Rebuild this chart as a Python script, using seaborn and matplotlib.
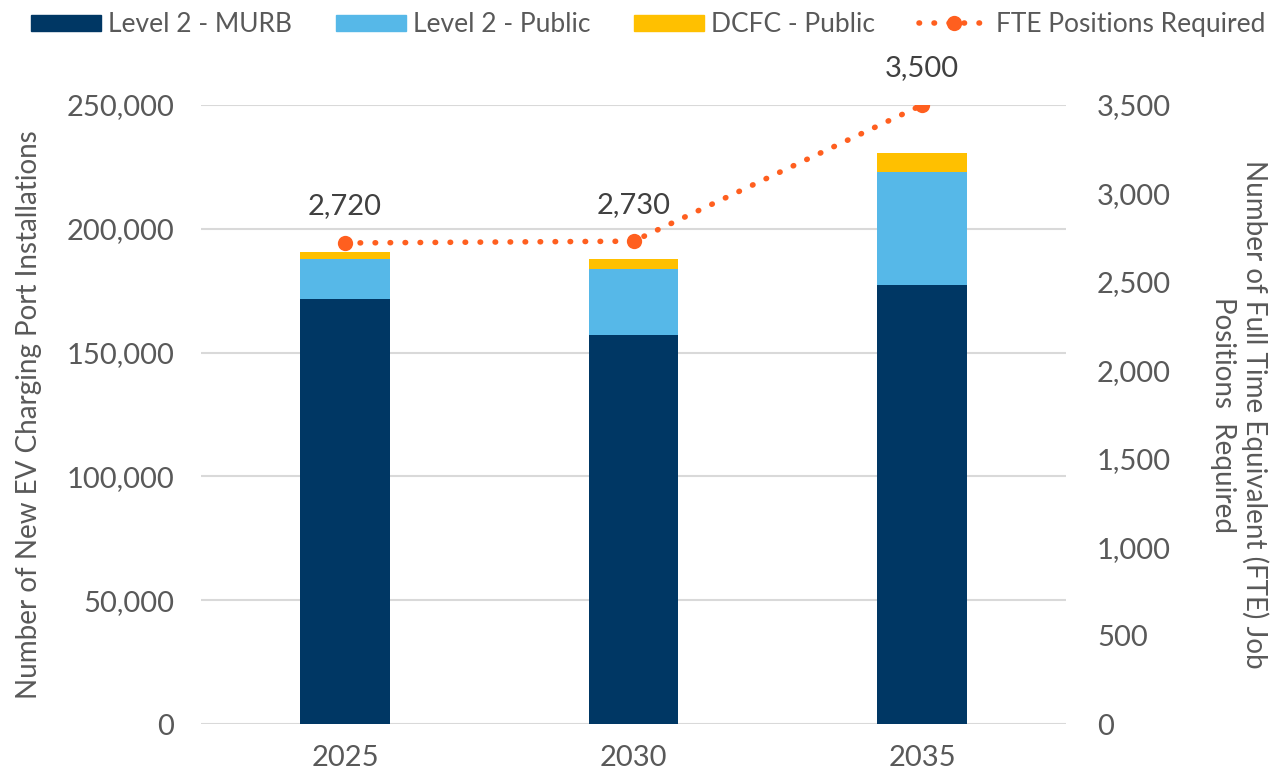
import matplotlib.pyplot as plt
import seaborn as sns
import numpy as np
import pandas as pd
from matplotlib.patches import Patch
from matplotlib.lines import Line2D

years = ['2025', '2030', '2035']
murb = [171600, 157100, 177300]
public_l2 = [16200, 26700, 45600]
dcfc = [2800, 4000, 7700]
fte = [2720, 2730, 3500]
fte_labels = ['2,720', '2,730', '3,500']

c_murb = '#003764'
c_pub = '#56B8E8'
c_dcfc = '#FFC000'
c_fte = '#FF5F1F'
grey = '#595959'

sns.set_style('white')
plt.rcParams['font.family'] = ['Lato', 'DejaVu Sans']
plt.rcParams['text.color'] = grey

df = pd.DataFrame({'year': years, 'murb': murb, 'pub': public_l2, 'dcfc': dcfc})
df['s2'] = df['murb'] + df['pub']
df['s3'] = df['s2'] + df['dcfc']

fig = plt.figure(figsize=(12.71, 7.75), dpi=100)
ax = fig.add_axes([0.158, 0.0658, 0.681, 0.7987])

# stacked bars drawn from the top segment down
for col, c in [('s3', c_dcfc), ('s2', c_pub), ('murb', c_murb)]:
    sns.barplot(data=df, x='year', y=col, color=c, width=0.31, ax=ax,
                saturation=1, edgecolor='none', zorder=3)

ax.set_ylim(0, 250000)
ax.set_xlim(-0.5, 2.5)
ax.set_yticks(np.arange(0, 250001, 50000))
ax.set_yticklabels([f'{v:,}' for v in range(0, 250001, 50000)])
ax.grid(axis='y', color='#D9D9D9', linewidth=1.5, zorder=0)
ax.set_axisbelow(True)
for s in ax.spines.values():
    s.set_visible(False)
ax.tick_params(axis='y', length=0, pad=19, labelsize=21, labelcolor=grey)
ax.tick_params(axis='x', length=0, pad=15, labelsize=21, labelcolor=grey)
ax.set_xlabel('')
ax.set_ylabel('Number of New EV Charging Port Installations', fontsize=20,
              color=grey, labelpad=18)

ax2 = ax.twinx()
xs = np.arange(len(years))
sns.lineplot(x=xs, y=fte, ax=ax2, color=c_fte, linewidth=4,
             linestyle=(0, (0.1, 2.6)), dash_capstyle='round',
             marker='o', markersize=11, markeredgewidth=0, zorder=4)
ax2.set_ylim(0, 3500)
ax2.set_yticks(np.arange(0, 3501, 500))
ax2.set_yticklabels([f'{v:,}' for v in range(0, 3501, 500)])
for s in ax2.spines.values():
    s.set_visible(False)
ax2.tick_params(axis='y', length=0, pad=22, labelsize=21, labelcolor=grey)
ax2.set_ylabel('Number of Full Time Equivalent (FTE) Job\nPositions  Required',
               fontsize=20, color=grey, rotation=270, labelpad=70)
for x, y, lab in zip(xs, fte, fte_labels):
    ax2.annotate(lab, (x, y), xytext=(0, 17), textcoords='offset points',
                 ha='center', va='bottom', fontsize=21, color='#404040')

handles = [
    Patch(color=c_murb, label='Level 2 - MURB'),
    Patch(color=c_pub, label='Level 2 - Public'),
    Patch(color=c_dcfc, label='DCFC - Public'),
    Line2D([0], [0], color=c_fte, linewidth=4, linestyle=(0, (0.1, 2.6)),
           dash_capstyle='round', marker='o', markersize=11,
           markeredgewidth=0, label='FTE Positions Required'),
]
fig.legend(handles=handles, loc='upper center', bbox_to_anchor=(0.51, 1.015),
           ncol=4, frameon=False, fontsize=19, handlelength=2.65,
           handleheight=0.55, columnspacing=1.65, handletextpad=0.28,
           labelcolor=grey)

plt.savefig('out.png', dpi=100)
